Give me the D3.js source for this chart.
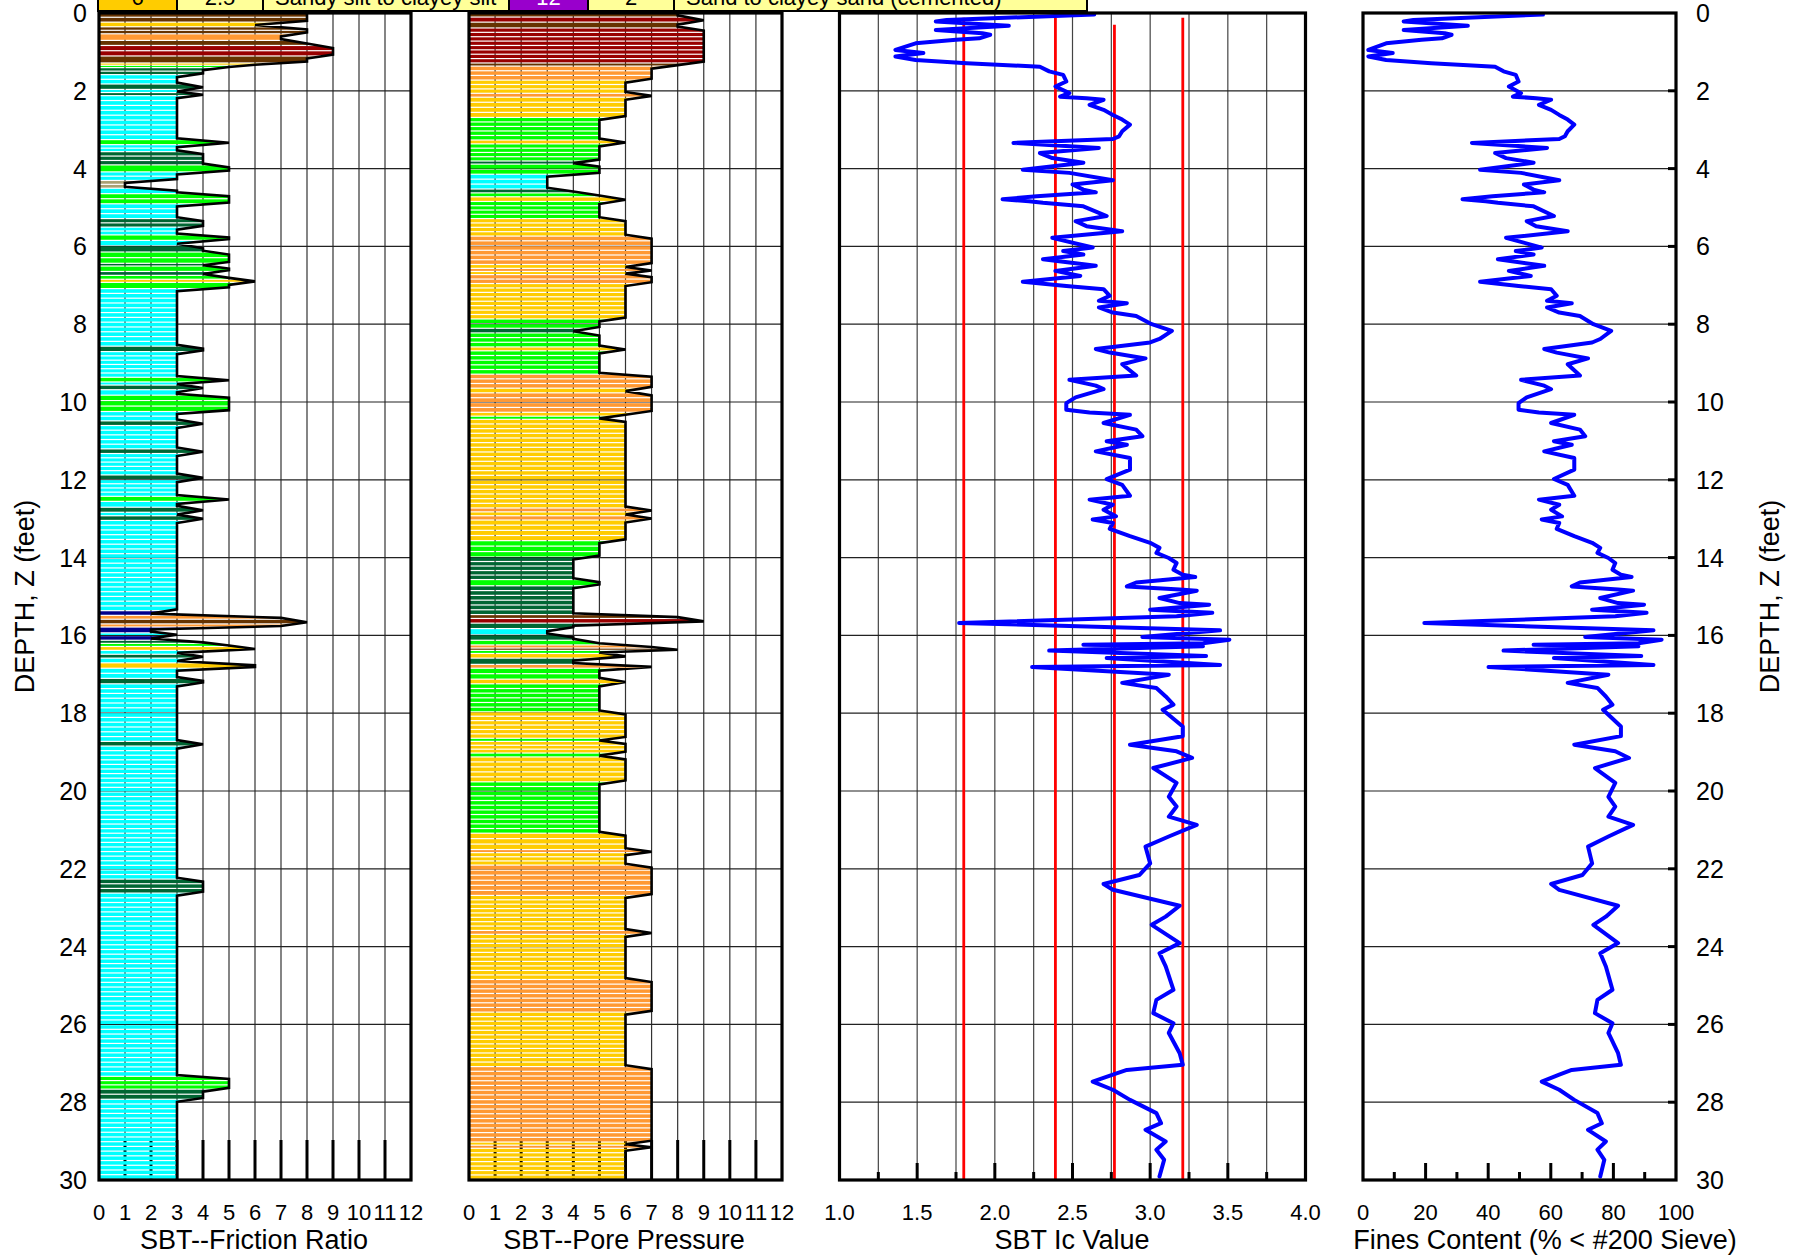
<!DOCTYPE html>
<html>
<head>
<meta charset="utf-8">
<script src="https://cdn.jsdelivr.net/npm/d3@7"></script>
<style>
  body { margin: 0; background: #fff; }
  svg { display: block; }
  text { font-family: "Liberation Sans", Arial, sans-serif; fill: #000; }
</style>
</head>
<body>
<svg id="chart" width="1796" height="1257"></svg>
<script>
// ---- CPT log data -------------------------------------------------------
// SBT zone by friction ratio: [top depth ft, bottom depth ft, zone]
const frictionLayers = [
  [0,0.25,8],[0.25,0.37,6],[0.37,0.55,8],[0.55,0.72,7],[0.72,0.85,8],[0.85,1.12,9],[1.12,1.30,8],
  [1.30,1.36,6],[1.36,1.42,5],[1.42,1.60,4],[1.60,1.84,3],[1.84,1.98,4],[1.98,2.06,3],[2.06,2.14,4],
  [2.14,3.27,3],[3.27,3.40,5],[3.40,3.58,3],[3.58,3.92,4],[3.92,4.10,5],[4.10,4.32,3],[4.32,4.52,1],
  [4.52,4.66,3],[4.66,4.92,5],[4.92,5.30,3],[5.30,5.52,4],[5.52,5.72,3],[5.72,5.86,5],[5.86,6.00,3],
  [6.00,6.16,4],[6.16,6.45,5],[6.45,6.52,4],[6.52,6.66,5],[6.66,6.76,4],[6.76,6.86,5],[6.86,6.94,6],
  [6.94,7.10,5],[7.10,8.58,3],[8.58,8.72,4],[8.72,9.38,3],[9.38,9.50,5],[9.50,9.58,3],[9.58,9.70,4],
  [9.70,9.84,3],[9.84,10.26,5],[10.26,10.50,3],[10.50,10.62,4],[10.62,11.22,3],[11.22,11.34,4],
  [11.34,11.89,3],[11.89,12.01,4],[12.01,12.44,3],[12.44,12.57,5],[12.57,12.72,3],[12.72,12.85,4],
  [12.85,12.94,3],[12.94,13.06,4],[13.06,15.38,3],[15.38,15.50,2],[15.50,15.60,7],[15.60,15.72,8],
  [15.72,15.80,7],[15.80,15.95,2],[15.95,16.02,3],[16.02,16.14,2],[16.14,16.22,4],[16.22,16.30,5],
  [16.30,16.40,6],[16.40,16.50,3],[16.50,16.60,4],[16.60,16.72,3],[16.72,16.86,6],[16.86,17.12,3],
  [17.12,17.26,4],[17.26,18.74,3],[18.74,18.86,4],[18.86,22.28,3],[22.28,22.64,4],[22.64,27.35,3],
  [27.35,27.68,5],[27.68,27.94,4],[27.94,30,3]
];

// SBT zone by pore pressure: [top depth ft, bottom depth ft, zone]
const poreLayers = [
  [0,0.12,8],[0.12,0.25,9],[0.25,0.40,8],[0.40,1.30,9],[1.30,1.38,8],[1.38,1.74,7],[1.74,2.08,6],
  [2.08,2.18,7],[2.18,2.70,6],[2.70,3.28,5],[3.28,3.38,6],[3.38,3.82,5],[3.82,3.90,4],[3.90,4.16,5],
  [4.16,4.54,3],[4.54,4.64,4],[4.64,4.74,5],[4.74,4.86,6],[4.86,5.30,5],[5.30,5.75,6],[5.75,6.48,7],
  [6.48,6.58,6],[6.58,6.66,7],[6.66,6.74,6],[6.74,6.97,7],[6.97,7.88,6],[7.88,8.12,5],[8.12,8.24,4],
  [8.24,8.60,5],[8.60,8.70,6],[8.70,9.30,5],[9.30,9.66,7],[9.66,9.78,6],[9.78,10.28,7],[10.28,10.38,6],
  [10.38,10.46,5],[10.46,12.74,6],[12.74,12.84,7],[12.84,12.94,6],[12.94,13.05,7],[13.05,13.58,6],
  [13.58,14.0,5],[14.0,14.58,4],[14.58,14.74,5],[14.74,15.48,4],[15.48,15.58,8],[15.58,15.70,9],
  [15.70,15.84,4],[15.84,16.00,3],[16.00,16.14,4],[16.14,16.26,5],[16.26,16.34,7],[16.34,16.40,8],
  [16.40,16.48,5],[16.48,16.60,6],[16.60,16.76,4],[16.76,16.86,7],[16.86,17.14,5],[17.14,17.26,6],
  [17.26,17.98,5],[17.98,18.66,6],[18.66,18.74,5],[18.74,19.04,6],[19.04,19.14,5],[19.14,19.78,6],
  [19.78,21.10,5],[21.10,21.52,6],[21.52,21.60,7],[21.60,21.92,6],[21.92,22.70,7],[22.70,23.60,6],
  [23.60,23.70,7],[23.70,24.86,6],[24.86,25.70,7],[25.70,27.10,6],[27.10,29.04,7],[29.04,29.12,6],
  [29.12,29.20,7],[29.20,30,6]
];

// Soil behaviour type index: [depth ft, Ic]
const icProfile = [
  [0.04,2.64],[0.18,1.69],[0.22,1.62],[0.33,2.09],[0.44,1.62],[0.52,1.92],[0.56,1.97],[0.65,1.90],
  [0.69,1.75],[0.78,1.49],[0.95,1.36],[1.03,1.54],[1.12,1.36],[1.21,1.49],[1.29,1.82],[1.38,2.29],
  [1.50,2.35],[1.59,2.44],[1.76,2.46],[1.89,2.39],[2.06,2.48],[2.15,2.42],[2.19,2.59],[2.23,2.70],
  [2.36,2.61],[2.49,2.70],[2.62,2.76],[2.74,2.82],[2.87,2.87],[3.04,2.82],[3.17,2.80],[3.24,2.76],
  [3.34,2.12],[3.47,2.67],[3.60,2.29],[3.73,2.37],[3.85,2.57],[4.03,2.18],[4.11,2.48],[4.30,2.76],
  [4.41,2.50],[4.54,2.57],[4.61,2.65],[4.71,2.27],[4.79,2.05],[4.84,2.22],[4.88,2.31],[4.97,2.57],
  [5.22,2.72],[5.35,2.52],[5.48,2.59],[5.61,2.82],[5.78,2.37],[6.03,2.63],[6.12,2.44],[6.21,2.57],
  [6.33,2.31],[6.50,2.65],[6.63,2.39],[6.76,2.55],[6.91,2.18],[7.02,2.46],[7.10,2.70],[7.27,2.74],
  [7.40,2.67],[7.46,2.85],[7.57,2.67],[7.70,2.76],[7.79,2.91],[8.00,3.01],[8.17,3.14],[8.38,3.06],
  [8.47,3.00],[8.64,2.65],[8.73,2.74],[8.88,2.97],[9.03,2.82],[9.32,2.91],[9.43,2.48],[9.58,2.65],
  [9.67,2.70],[9.88,2.52],[10.03,2.46],[10.20,2.46],[10.27,2.61],[10.33,2.87],[10.54,2.70],[10.71,2.91],
  [10.88,2.95],[11.01,2.72],[11.10,2.85],[11.27,2.65],[11.44,2.87],[11.74,2.87],[11.98,2.72],[12.13,2.82],
  [12.41,2.87],[12.51,2.61],[12.64,2.76],[12.77,2.70],[12.94,2.78],[13.02,2.63],[13.11,2.76],[13.26,2.74],
  [13.45,2.87],[13.62,3.00],[13.75,3.06],[13.88,3.04],[14.01,3.12],[14.14,3.17],[14.31,3.15],[14.44,3.21],
  [14.50,3.29],[14.64,2.91],[14.74,2.85],[14.82,3.19],[14.85,3.30],[15.04,3.06],[15.17,3.19],[15.21,3.38],
  [15.34,3.00],[15.42,3.40],[15.51,3.17],[15.68,1.77],[15.87,3.45],[16.04,2.95],[16.11,3.51],[16.20,3.34],
  [16.24,2.57],[16.28,3.34],[16.39,2.35],[16.53,3.36],[16.58,2.72],[16.76,3.45],[16.81,2.24],[17.01,3.12],
  [17.22,2.82],[17.35,3.04],[17.57,3.10],[17.78,3.15],[17.91,3.08],[18.34,3.21],[18.59,3.21],[18.81,2.87],
  [18.98,3.17],[19.15,3.27],[19.41,3.02],[19.79,3.17],[20.15,3.12],[20.40,3.17],[20.66,3.12],[20.87,3.30],
  [21.17,3.12],[21.43,2.97],[21.86,3.00],[22.16,2.93],[22.39,2.70],[22.54,2.76],[22.95,3.19],[23.23,3.10],
  [23.44,3.01],[23.91,3.19],[24.17,3.06],[24.51,3.10],[25.11,3.15],[25.37,3.04],[25.71,3.02],[25.97,3.15],
  [26.22,3.12],[26.74,3.19],[27.04,3.21],[27.17,2.85],[27.29,2.76],[27.47,2.63],[27.68,2.76],[27.94,2.87],
  [28.28,3.04],[28.54,3.07],[28.71,2.97],[29.01,3.10],[29.22,3.04],[29.48,3.09],[29.91,3.06]
];

// Fines content, % passing #200 sieve: [depth ft, FC]
const finesProfile = [
  [0.04,57.5],[0.18,16.1],[0.22,13.0],[0.33,33.5],[0.44,13.0],[0.52,26.1],[0.56,28.3],[0.65,25.2],
  [0.69,18.7],[0.78,7.4],[0.95,1.7],[1.03,9.5],[1.12,1.7],[1.21,7.4],[1.29,21.8],[1.38,42.2],
  [1.50,44.9],[1.59,48.8],[1.76,49.7],[1.89,46.6],[2.06,50.5],[2.15,47.9],[2.19,55.3],[2.23,60.1],
  [2.36,56.2],[2.49,60.1],[2.62,62.7],[2.74,65.4],[2.87,67.5],[3.04,65.4],[3.17,64.5],[3.24,62.7],
  [3.34,34.8],[3.47,58.8],[3.60,42.2],[3.73,45.7],[3.85,54.5],[4.03,37.4],[4.11,50.5],[4.30,62.7],
  [4.41,51.4],[4.54,54.5],[4.61,57.9],[4.71,41.4],[4.79,31.8],[4.84,39.2],[4.88,43.1],[4.97,54.5],
  [5.22,61.0],[5.35,52.3],[5.48,55.3],[5.61,65.4],[5.78,45.7],[6.03,57.1],[6.12,48.8],[6.21,54.5],
  [6.33,43.1],[6.50,57.9],[6.63,46.6],[6.76,53.6],[6.91,37.4],[7.02,49.7],[7.10,60.1],[7.27,61.9],
  [7.40,58.8],[7.46,66.7],[7.57,58.8],[7.70,62.7],[7.79,69.3],[8.00,73.6],[8.17,79.3],[8.38,75.8],
  [8.47,73.2],[8.64,57.9],[8.73,61.9],[8.88,71.9],[9.03,65.4],[9.32,69.3],[9.43,50.5],[9.58,57.9],
  [9.67,60.1],[9.88,52.3],[10.03,49.7],[10.20,49.7],[10.27,56.2],[10.33,67.5],[10.54,60.1],[10.71,69.3],
  [10.88,71.0],[11.01,61.0],[11.10,66.7],[11.27,57.9],[11.44,67.5],[11.74,67.5],[11.98,61.0],[12.13,65.4],
  [12.41,67.5],[12.51,56.2],[12.64,62.7],[12.77,60.1],[12.94,63.6],[13.02,57.1],[13.11,62.7],[13.26,61.9],
  [13.45,67.5],[13.62,73.2],[13.75,75.8],[13.88,74.9],[14.01,78.4],[14.14,80.6],[14.31,79.7],[14.44,82.4],
  [14.50,85.8],[14.64,69.3],[14.74,66.7],[14.82,81.5],[14.85,86.3],[15.04,75.8],[15.17,81.5],[15.21,89.8],
  [15.34,73.2],[15.42,90.6],[15.51,80.6],[15.68,19.6],[15.87,92.8],[16.04,71.0],[16.11,95.4],[16.20,88.0],
  [16.24,54.5],[16.28,88.0],[16.39,44.9],[16.53,88.9],[16.58,61.0],[16.76,92.8],[16.81,40.1],[17.01,78.4],
  [17.22,65.4],[17.35,74.9],[17.57,77.6],[17.78,79.7],[17.91,76.7],[18.34,82.4],[18.59,82.4],[18.81,67.5],
  [18.98,80.6],[19.15,85.0],[19.41,74.1],[19.79,80.6],[20.15,78.4],[20.40,80.6],[20.66,78.4],[20.87,86.3],
  [21.17,78.4],[21.43,71.9],[21.86,73.2],[22.16,70.1],[22.39,60.1],[22.54,62.7],[22.95,81.5],[23.23,77.6],
  [23.44,73.6],[23.91,81.5],[24.17,75.8],[24.51,77.6],[25.11,79.7],[25.37,74.9],[25.71,74.1],[25.97,79.7],
  [26.22,78.4],[26.74,81.5],[27.04,82.4],[27.17,66.7],[27.29,62.7],[27.47,57.1],[27.68,62.7],[27.94,67.5],
  [28.28,74.9],[28.54,76.3],[28.71,71.9],[29.01,77.6],[29.22,74.9],[29.48,77.1],[29.91,75.8]
];

// Ic reference lines: [Ic, starting depth ft]
const icBoundaries = [[1.8, 0.12], [2.39, 0.12], [2.77, 0.30], [3.21, 0.12]];

// Robertson (1986) SBT zone colours
const zoneColors = {
  1: "#A89F74", 2: "#00008B", 3: "#00FFFF", 4: "#006633", 5: "#00FF00",
  6: "#FFCC00", 7: "#FF9933", 8: "#663300", 9: "#990000", 12: "#9900CC"
};

// Legend entries: zone, qc/N60 ratio, description
const legendZones = [6, 12];
const legendRatios = ["2.5", "2"];
const legendNames = ["Sandy silt to clayey silt", "Sand to clayey sand (cemented)"];

const depthTicks = d3.range(0, 31, 2);
const sbtTicks = d3.range(0, 13, 1);
const icTicks = [1.0, 1.5, 2.0, 2.5, 3.0, 3.5, 4.0];
const finesTicks = [0, 20, 40, 60, 80, 100];

// ---- layout -------------------------------------------------------------
const svg = d3.select("#chart");
const W = 1796, H = 1257;
svg.append("rect").attr("width", W).attr("height", H).attr("fill", "#fff");
svg.append("defs");

const y = d3.scaleLinear().domain([0, 30]).range([13, 1180]);
const xFr = d3.scaleLinear().domain([0, 12]).range([99, 411]);
const xPp = d3.scaleLinear().domain([0, 12]).range([469, 782]);
const xIc = d3.scaleLinear().domain([1, 4]).range([839.5, 1305.5]);
const xFc = d3.scaleLinear().domain([0, 100]).range([1363, 1676]);

const tickFont = 22, titleFont = 27, depthFont = 25;

function hGrid(g, x0, x1) {
  g.selectAll(null).data(depthTicks.filter(d => d > 0 && d < 30)).enter().append("line")
    .attr("x1", x0).attr("x2", x1).attr("y1", d => y(d)).attr("y2", d => y(d))
    .attr("stroke", "#222").attr("stroke-width", 1.2);
}
function vGrid(g, scale, vals, color) {
  g.selectAll(null).data(vals).enter().append("line")
    .attr("x1", d => scale(d)).attr("x2", d => scale(d))
    .attr("y1", y(0)).attr("y2", y(30))
    .attr("stroke", color || "#444").attr("stroke-width", 1.2);
}
function bottomTicks(g, scale, vals, len) {
  g.selectAll(null).data(vals).enter().append("line")
    .attr("x1", d => scale(d)).attr("x2", d => scale(d))
    .attr("y1", y(30)).attr("y2", d => y(30) - len(d))
    .attr("stroke", "#000").attr("stroke-width", 3);
}
function frame(g, x0, x1) {
  g.append("rect").attr("x", x0).attr("y", y(0)).attr("width", x1 - x0).attr("height", y(30) - y(0))
    .attr("fill", "none").attr("stroke", "#000").attr("stroke-width", 3.2);
}
function axisLabels(scale, vals, fmt, title, titleX) {
  svg.append("g").selectAll("text").data(vals).enter().append("text")
    .attr("x", d => scale(d)).attr("y", 1220).attr("text-anchor", "middle")
    .attr("font-size", tickFont).text(fmt);
  svg.append("text").attr("x", titleX).attr("y", 1249).attr("text-anchor", "middle")
    .attr("font-size", titleFont).text(title);
}

// Outline vertices of a layered zone log (sloped transitions between samples)
function outlinePoints(layers) {
  const pts = [];
  layers.forEach(([t, b, z], i) => {
    if (i === 0) pts.push([z, t]);
    if (b - t <= 0.14) pts.push([z, (t + b) / 2]);
    else pts.push([z, t + 0.05], [z, b - 0.05]);
    if (i === layers.length - 1) pts.push([z, b]);
  });
  return pts;
}

function sbtPanel(layers, xs, id) {
  const g = svg.append("g");
  g.append("rect").attr("x", xs(0)).attr("y", y(0)).attr("width", xs(12) - xs(0))
    .attr("height", y(30) - y(0)).attr("fill", "#fff");
  vGrid(g, xs, d3.range(1, 12), "#333");
  hGrid(g, xs(0), xs(12));
  // scale ticks sit under the zone fill
  bottomTicks(g, xs, d3.range(1, 12), () => 40);

  const pts = outlinePoints(layers);
  const area = [[0, 0], ...pts, [0, 30]];
  const lineGen = d3.line().x(p => xs(p[0])).y(p => y(p[1]));
  svg.select("defs").append("clipPath").attr("id", id)
    .append("path").attr("d", lineGen(area) + "Z");

  // sampled stripes, separated by thin white gaps
  const stripes = [];
  const step = 0.12;
  layers.forEach(([t, b, z]) => {
    const n = Math.max(1, Math.round((b - t) / step));
    const h = (b - t) / n;
    for (let k = 0; k < n; k++) stripes.push({ d0: t + k * h, d1: t + (k + 1) * h, z });
  });
  g.append("g").attr("clip-path", `url(#${id})`).selectAll("rect").data(stripes).enter().append("rect")
    .attr("x", xs(0)).attr("width", xs(12) - xs(0))
    .attr("y", s => y(s.d0))
    .attr("height", s => Math.max(0.9, y(s.d1) - y(s.d0) - 1.2))
    .attr("fill", s => zoneColors[s.z]);

  g.append("path").attr("d", lineGen(pts)).attr("fill", "none")
    .attr("stroke", "#000").attr("stroke-width", 2.6).attr("stroke-linejoin", "miter");

  frame(g, xs(0), xs(12));
}

sbtPanel(frictionLayers, xFr, "clipFr");
sbtPanel(poreLayers, xPp, "clipPp");

// ---- Ic panel -------------------------------------------------------------
{
  const g = svg.append("g");
  vGrid(g, xIc, d3.range(1.25, 3.9, 0.25));
  hGrid(g, xIc(1), xIc(4));
  g.selectAll(null).data(icBoundaries).enter().append("line")
    .attr("x1", d => xIc(d[0])).attr("x2", d => xIc(d[0]))
    .attr("y1", d => y(d[1])).attr("y2", y(30))
    .attr("stroke", "#FF0000").attr("stroke-width", 2.8);
  bottomTicks(g, xIc, d3.range(1.25, 3.9, 0.25), d => (Math.abs(d * 2 - Math.round(d * 2)) < 1e-6 ? 17 : 8));
  g.append("path").datum(icProfile)
    .attr("d", d3.line().x(p => xIc(p[1])).y(p => y(p[0])))
    .attr("fill", "none").attr("stroke", "#0000FF").attr("stroke-width", 4)
    .attr("stroke-linejoin", "round").attr("stroke-linecap", "round");
  frame(g, xIc(1), xIc(4));
}

// ---- Fines content panel ----------------------------------------------------
{
  const g = svg.append("g");
  hGrid(g, xFc(0), xFc(100));
  bottomTicks(g, xFc, d3.range(10, 100, 10), d => (d % 20 === 0 ? 17 : 8));
  g.selectAll(null).data(depthTicks.filter(d => d > 0 && d < 30)).enter().append("line")
    .attr("x1", xFc(100)).attr("x2", xFc(100) - 8).attr("y1", d => y(d)).attr("y2", d => y(d))
    .attr("stroke", "#000").attr("stroke-width", 3);
  g.append("path").datum(finesProfile)
    .attr("d", d3.line().x(p => xFc(p[1])).y(p => y(p[0])))
    .attr("fill", "none").attr("stroke", "#0000FF").attr("stroke-width", 4)
    .attr("stroke-linejoin", "round").attr("stroke-linecap", "round");
  frame(g, xFc(0), xFc(100));
}

// ---- axes labels ------------------------------------------------------------
axisLabels(xFr, sbtTicks, d => d, "SBT--Friction Ratio", 254);
axisLabels(xPp, sbtTicks, d => d, "SBT--Pore Pressure", 624);
axisLabels(xIc, icTicks, d => d.toFixed(1), "SBT Ic Value", 1072);
axisLabels(xFc, finesTicks, d => d, "Fines Content (% < #200 Sieve)", 1545);

svg.append("g").selectAll("text").data(depthTicks).enter().append("text")
  .attr("x", 87).attr("y", d => y(d)).attr("dy", "0.36em").attr("text-anchor", "end")
  .attr("font-size", depthFont).text(d => d);
svg.append("g").selectAll("text").data(depthTicks).enter().append("text")
  .attr("x", 1696).attr("y", d => y(d)).attr("dy", "0.36em").attr("text-anchor", "start")
  .attr("font-size", depthFont).text(d => d);

svg.append("text").attr("transform", `translate(34,${y(15)}) rotate(-90)`)
  .attr("text-anchor", "middle").attr("font-size", titleFont).text("DEPTH, Z (feet)");
svg.append("text").attr("transform", `translate(1779,${y(15)}) rotate(-90)`)
  .attr("text-anchor", "middle").attr("font-size", titleFont).text("DEPTH, Z (feet)");

// ---- zone legend strip (runs off the top edge) ------------------------------
{
  const g = svg.append("g");
  const zoneW = 79, ratioW = 86, nameWs = [246, 413];
  let x = 98;
  const top = -24, bottom = 11;
  legendZones.forEach((z, i) => {
    const cells = [
      { w: zoneW, fill: zoneColors[z], text: String(z), color: z === 12 ? "#fff" : "#000", anchor: "middle" },
      { w: ratioW, fill: "#FFFF99", text: legendRatios[i], color: "#000", anchor: "middle" },
      { w: nameWs[i], fill: "#FFFF99", text: legendNames[i], color: "#000", anchor: "start" }
    ];
    cells.forEach(c => {
      g.append("rect").attr("x", x).attr("y", top).attr("width", c.w).attr("height", bottom - top)
        .attr("fill", c.fill).attr("stroke", "#000").attr("stroke-width", 2);
      g.append("text").attr("x", c.anchor === "middle" ? x + c.w / 2 : x + 12).attr("y", 5)
        .attr("text-anchor", c.anchor).attr("font-size", 22).style("fill", c.color).text(c.text);
      x += c.w;
    });
  });
}
</script>
</body>
</html>
